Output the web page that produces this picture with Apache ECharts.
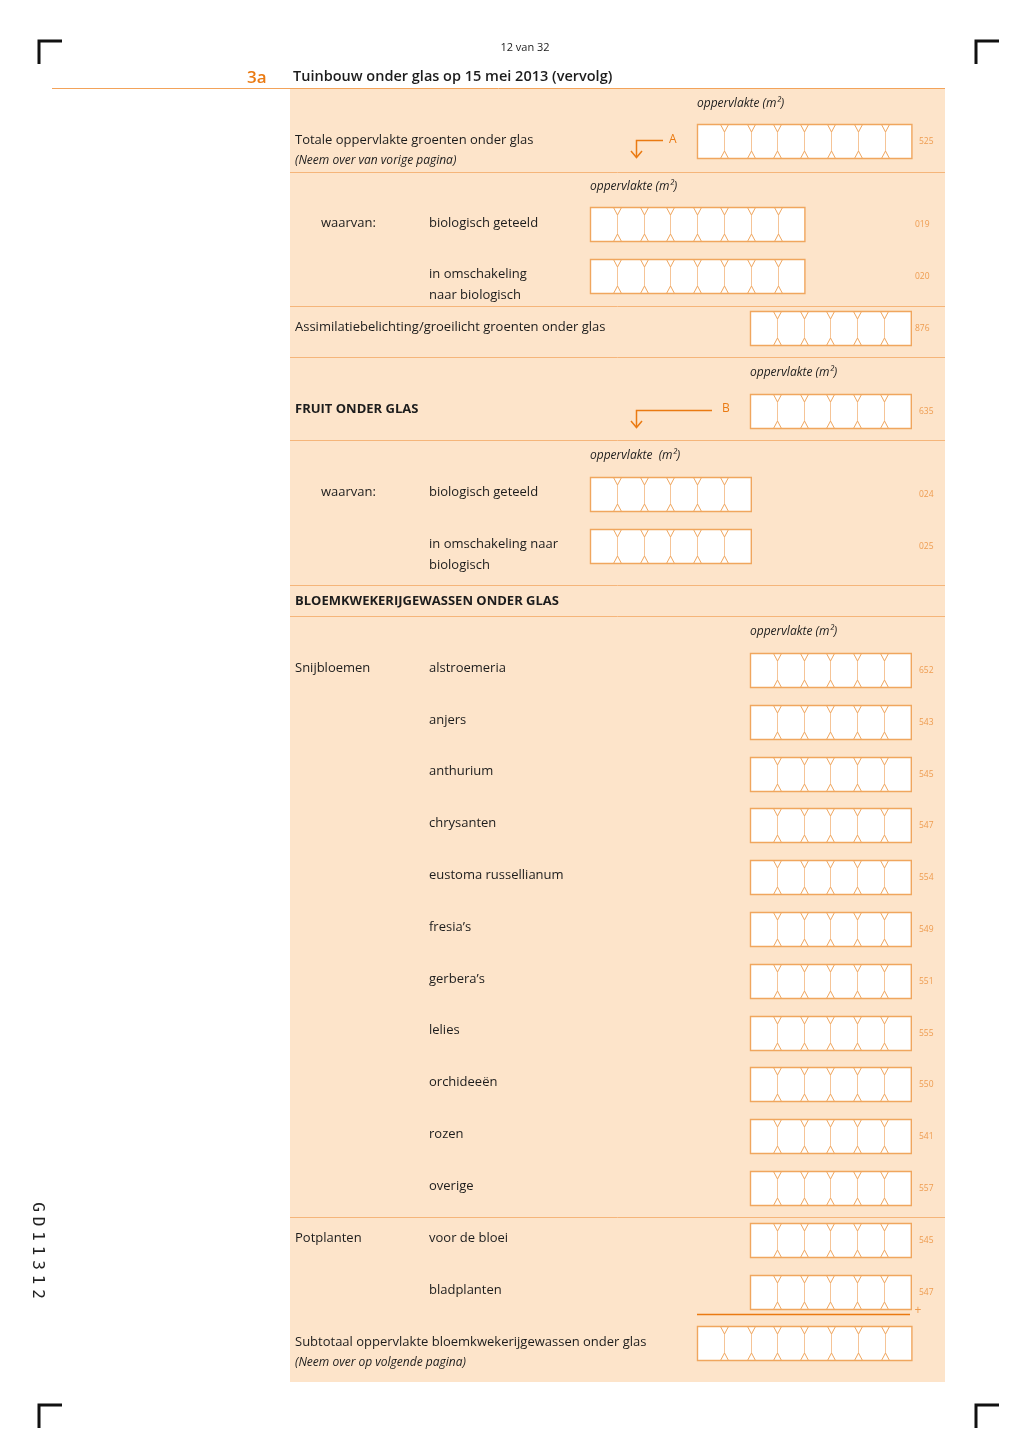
<!DOCTYPE html>
<html><head><meta charset="utf-8">
<script src="https://cdn.jsdelivr.net/npm/echarts@6/dist/echarts.min.js"></script>
<style>html,body{margin:0;padding:0;background:#fff}#c{width:1028px;height:1454px}</style>
</head><body><div id="c"></div>
<script>
// ---- content ----
const pageLabel = '12 van 32';
const sectionNr = '3a';
const sectionTitle = 'Tuinbouw onder glas op 15 mei 2013 (vervolg)';
const unitLabel = 'oppervlakte (m²)';
const groentenLabels = ['Totale oppervlakte groenten onder glas', '(Neem over van vorige pagina)'];
const groentenCodes = ['525', '019', '020', '876'];
const fruitCodes = ['635', '024', '025'];
const snijLabels = ['alstroemeria', 'anjers', 'anthurium', 'chrysanten', 'eustoma russellianum', 'fresia’s', 'gerbera’s', 'lelies', 'orchideeën', 'rozen', 'overige'];
const snijCodes = ['652', '543', '545', '547', '554', '549', '551', '555', '550', '541', '557'];
const potLabels = ['voor de bloei', 'bladplanten'];
const potCodes = ['545', '547'];
const docCode = 'GD11312';

// ---- styles ----
const FONT = '"Open Sans", "Noto Sans", sans-serif';
const TXT = '#1c1c1c';
const ORANGE = '#f0a65e';
const CODE = '#ee9c50';
const DARK_OR = '#ea7a12';
const PANEL = '#fde4ca';
const SEP = '#f5b57a';
const CW = 26.8, CH = 34;

const els = [];
function text(x, y, t, opt = {}) {
  els.push({ type: 'text', x: x, y: y, rotation: opt.rot || 0, style: {
    text: t, x: 0, y: 0, fill: opt.fill || TXT,
    font: (opt.italic ? 'italic ' : '') + (opt.weight ? opt.weight + ' ' : (opt.bold ? 'bold ' : '')) + (opt.size || 13) + 'px ' + (opt.family || FONT),
    textAlign: opt.align || 'left', textVerticalAlign: 'middle'
  }, z: 10 });
}
function line(pts, color, w) {
  els.push({ type: 'polyline', shape: { points: pts }, style: { stroke: color, lineWidth: w || 1, fill: null }, z: 5 });
}
function rect(x, y, w, h, fill, stroke, lw) {
  els.push({ type: 'rect', shape: { x: x, y: y, width: w, height: h }, style: { fill: fill, stroke: stroke || null, lineWidth: lw || 0 }, z: 3 });
}
function boxRow(x, y, n, code, codeX) {
  const w = CW * n;
  rect(x + 0.5, y + 0.5, w, CH, '#ffffff', ORANGE, 1.4);
  for (let i = 1; i < n; i++) {
    const xb = Math.round(x + CW * i) + 0.5;
    line([[xb - 4, y + 0.5], [xb, y + 8], [xb + 4, y + 0.5]], ORANGE, 1);
    line([[xb, y + 8], [xb, y + CH - 7]], '#f5c497', 1);
    line([[xb - 4, y + CH + 0.5], [xb, y + CH - 7], [xb + 4, y + CH + 0.5]], ORANGE, 1);
  }
  if (code) text(codeX || (x + w + 8), y + CH / 2 + 1, code, { size: 8.5, fill: CODE });
}
function corner(x, y) {
  line([[x, y + 23], [x, y], [x + 23, y]], '#111', 3);
}

// page frame
corner(39, 41); corner(976, 41); corner(39, 1405); corner(976, 1405);
text(525, 48, pageLabel, { size: 11, align: 'center' });
text(247, 78, sectionNr, { size: 17, weight: 600, fill: DARK_OR });
text(293, 77, sectionTitle, { size: 14.5, weight: 600 });
// panel
rect(290, 89, 655, 1293, PANEL);
line([[52, 88.5], [945, 88.5]], '#f3a35a', 1);
[172, 306, 357, 440, 585, 616, 1217].forEach(yy => line([[290, yy + 0.5], [945, yy + 0.5]], SEP, 1));

// Groenten
text(697, 104, unitLabel, { italic: true, size: 12 });
text(295, 140, groentenLabels[0]);
text(295, 161, groentenLabels[1], { italic: true, size: 12 });
line([[663, 140.5], [636.5, 140.5], [636.5, 157]], DARK_OR, 1.5);
line([[631, 151], [636.5, 157.5], [642, 151]], DARK_OR, 1.5);
text(669, 140, 'A', { size: 12, fill: DARK_OR });
boxRow(697, 124, 8, groentenCodes[0], 919);

text(590, 187, unitLabel, { italic: true, size: 12 });
text(321, 223, 'waarvan:');
text(429, 223, 'biologisch geteeld');
boxRow(590, 207, 8, groentenCodes[1], 915);
text(429, 274, 'in omschakeling');
text(429, 295, 'naar biologisch');
boxRow(590, 259, 8, groentenCodes[2], 915);

text(295, 327, 'Assimilatiebelichting/groeilicht groenten onder glas');
boxRow(750, 311, 6, groentenCodes[3], 915);

// Fruit
text(750, 373, unitLabel, { italic: true, size: 12 });
text(295, 409, 'FRUIT ONDER GLAS', { bold: true, size: 13 });
line([[712, 410.5], [636.5, 410.5], [636.5, 427]], DARK_OR, 1.5);
line([[631, 421], [636.5, 427.5], [642, 421]], DARK_OR, 1.5);
text(722, 409, 'B', { size: 12, fill: DARK_OR });
boxRow(750, 394, 6, fruitCodes[0], 919);

text(590, 456, 'oppervlakte  (m²)', { italic: true, size: 12 });
text(321, 492, 'waarvan:');
text(429, 492, 'biologisch geteeld');
boxRow(590, 477, 6, fruitCodes[1], 919);
text(429, 544, 'in omschakeling naar');
text(429, 565, 'biologisch');
boxRow(590, 529, 6, fruitCodes[2], 919);

// Bloemkwekerij
text(295, 601, 'BLOEMKWEKERIJGEWASSEN ONDER GLAS', { bold: true, size: 13 });
text(750, 632, unitLabel, { italic: true, size: 12 });
text(295, 668, 'Snijbloemen');
snijLabels.forEach((lab, i) => {
  const y0 = 653 + i * 51.8;
  text(429, y0 + 15, lab);
  boxRow(750, Math.round(y0), 6, snijCodes[i], 919);
});
text(295, 1238, 'Potplanten');
potLabels.forEach((lab, i) => {
  const y0 = 1223 + i * 52;
  text(429, y0 + 15, lab);
  boxRow(750, y0, 6, potCodes[i], 919);
});
line([[697, 1314.5], [910, 1314.5]], DARK_OR, 1.5);
text(918, 1311, '+', { size: 12, fill: CODE, align: 'center' });
text(295, 1342, 'Subtotaal oppervlakte bloemkwekerijgewassen onder glas');
text(295, 1363, '(Neem over op volgende pagina)', { italic: true, size: 12 });
boxRow(697, 1326, 8, null);

// side code, letter-spaced, reading top to bottom
docCode.split('').forEach((ch, i) => {
  text(37, 1207 + i * 14.5, ch, { size: 16, rot: -Math.PI / 2, align: 'center', fill: '#222', family: '"DejaVu Sans Mono", monospace' });
});

const chart = echarts.init(document.getElementById('c'), null, { renderer: 'canvas' });
chart.setOption({ backgroundColor: '#ffffff', animation: false, graphic: { elements: els } });
</script></body></html>
